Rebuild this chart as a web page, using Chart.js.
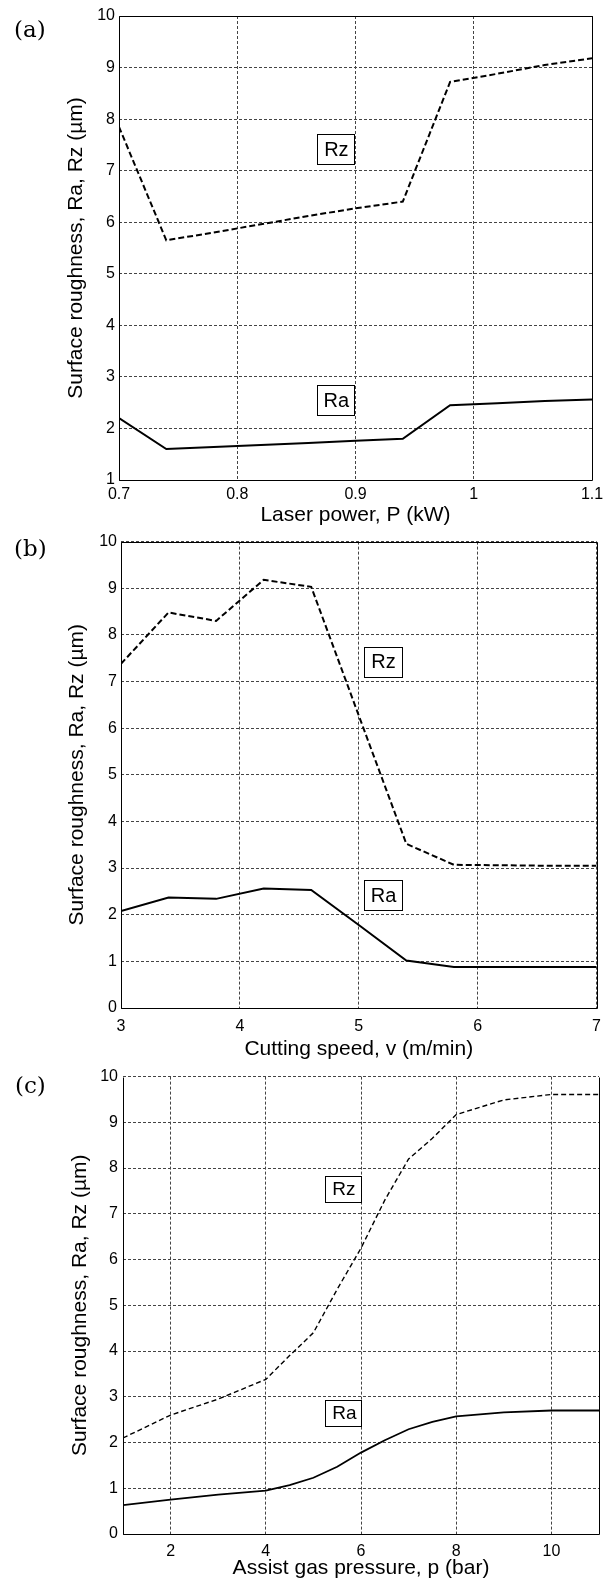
<!DOCTYPE html>
<html>
<head>
<meta charset="utf-8">
<script src="https://cdn.jsdelivr.net/npm/chart.js@4.4.1/dist/chart.umd.min.js"></script>
<style>
  html, body { margin: 0; padding: 0; background: #fff; }
  body { width: 610px; height: 1582px; position: relative; overflow: hidden; }
  .panel { position: absolute; left: 0; }
  .tag { position: absolute; font-family: "DejaVu Serif", "Liberation Serif", serif; font-size: 23px; color: #000; line-height: 1; }
</style>
</head>
<body>
<div class="panel" style="top:0px"><canvas id="ca" width="610" height="528"></canvas></div>
<div class="panel" style="top:528px"><canvas id="cb" width="610" height="534"></canvas></div>
<div class="panel" style="top:1062px"><canvas id="cc" width="610" height="520"></canvas></div>
<div class="tag" style="left:14px;top:18px">(a)</div>
<div class="tag" style="left:14px;top:537px">(b)</div>
<div class="tag" style="left:15px;top:1074px">(c)</div>
<script>
// ---------- data ----------
// (a) laser power
const aX  = [0.70, 0.74, 0.78, 0.82, 0.86, 0.90, 0.94, 0.98, 1.02, 1.06, 1.10];
const aRz = [7.85, 5.65, 5.80, 5.96, 6.12, 6.27, 6.40, 8.72, 8.88, 9.05, 9.18];
const aRa = [2.20, 1.60, 1.64, 1.68, 1.72, 1.76, 1.80, 2.45, 2.49, 2.53, 2.56];
const aXTicks = [0.7, 0.8, 0.9, 1.0, 1.1];
const aXLabels = ["0.7", "0.8", "0.9", "1", "1.1"];
const aYTicks = [1, 2, 3, 4, 5, 6, 7, 8, 9, 10];

// (b) cutting speed
const bX  = [3.0, 3.4, 3.8, 4.2, 4.6, 5.0, 5.4, 5.8, 6.2, 6.6, 7.0];
const bRz = [7.38, 8.48, 8.30, 9.18, 9.03, 6.27, 3.52, 3.07, 3.06, 3.05, 3.05];
const bRa = [2.08, 2.37, 2.34, 2.56, 2.53, 1.78, 1.02, 0.88, 0.88, 0.88, 0.88];
const bXTicks = [3, 4, 5, 6, 7];
const bXLabels = ["3", "4", "5", "6", "7"];
const bYTicks = [0, 1, 2, 3, 4, 5, 6, 7, 8, 9, 10];

// (c) assist gas pressure
const cX  = [1, 2, 3, 4, 4.5, 5, 5.5, 6, 6.5, 7, 7.5, 8, 9, 10, 11];
const cRz = [2.10, 2.60, 2.95, 3.38, 3.90, 4.40, 5.35, 6.25, 7.30, 8.20, 8.65, 9.17, 9.49, 9.61, 9.61];
const cRa = [0.63, 0.75, 0.86, 0.95, 1.07, 1.23, 1.47, 1.78, 2.05, 2.29, 2.45, 2.57, 2.66, 2.70, 2.70];
const cXTicks = [2, 4, 6, 8, 10];
const cXLabels = ["2", "4", "6", "8", "10"];
const cYTicks = [0, 1, 2, 3, 4, 5, 6, 7, 8, 9, 10];

const seriesNames = ["Rz", "Ra"];
const yTitle = "Surface roughness, Ra, Rz (\u00b5m)";
const xTitles = ["Laser power, P (kW)", "Cutting speed, v (m/min)", "Assist gas pressure, p (bar)"];

// ---------- helpers ----------
const FONT = "'Liberation Sans', Arial, Helvetica, sans-serif";

const framePlugin = {
  id: 'frame',
  afterDatasetsDraw(chart) {
    const {ctx, chartArea: a} = chart;
    const opt = chart.options.plugins.frameOpts || {};
    const l = Math.round(a.left) + 0.5, r = Math.round(a.right) + 0.5;
    const t = Math.round(a.top) + 0.5, b = Math.round(a.bottom) + 0.5;
    ctx.save();
    ctx.setLineDash([]);
    ctx.strokeStyle = '#000';
    ctx.lineWidth = 1;
    ctx.beginPath();
    if (opt.top !== false) { ctx.moveTo(l, t); ctx.lineTo(r, t); } else { ctx.moveTo(r, t); }
    ctx.lineTo(r, b); ctx.lineTo(l, b); ctx.lineTo(l, t);
    ctx.stroke();
    // boxed series labels
    const labels = chart.options.plugins.boxLabels || [];
    const xs = chart.scales.x, ys = chart.scales.y;
    labels.forEach(lb => {
      const cx = xs.getPixelForValue(lb.x), cy = ys.getPixelForValue(lb.y);
      const x0 = Math.round(cx - lb.w / 2) + 0.5, y0 = Math.round(cy - lb.h / 2) + 0.5;
      ctx.fillStyle = '#fff';
      ctx.fillRect(x0, y0, lb.w, lb.h);
      ctx.strokeStyle = '#000';
      ctx.lineWidth = 1;
      ctx.strokeRect(x0, y0, lb.w, lb.h);
      ctx.fillStyle = '#000';
      ctx.font = lb.size + 'px ' + FONT;
      ctx.textAlign = 'center';
      ctx.textBaseline = 'middle';
      ctx.fillText(lb.text, cx + 1, cy + 1);
    });
    ctx.restore();
  }
};

function makeChart(id, p) {
  const pts = (xs, ys) => xs.map((x, i) => ({x: x, y: ys[i]}));
  return new Chart(document.getElementById(id), {
    type: 'line',
    data: {
      datasets: [
        {label: seriesNames[0], data: pts(p.x, p.rz), borderColor: '#000', borderWidth: p.rzWidth,
         borderDash: p.rzDash, pointRadius: 0, fill: false, tension: 0},
        {label: seriesNames[1], data: pts(p.x, p.ra), borderColor: '#000', borderWidth: p.raWidth,
         pointRadius: 0, fill: false, tension: 0}
      ]
    },
    options: {
      responsive: false,
      animation: false,
      devicePixelRatio: 1,
      layout: {padding: {top: p.padTop, right: p.padRight, bottom: 0, left: 0}},
      plugins: {legend: {display: false}, tooltip: {enabled: false}, boxLabels: p.labels,
                frameOpts: {top: p.frameTop}},
      scales: {
        x: {
          type: 'linear', min: p.xMin, max: p.xMax,
          afterBuildTicks: s => { s.ticks = p.xTicks.map(v => ({value: v})); },
          afterFit: s => { s.height = p.xH; },
          ticks: {callback: (v, i) => p.xLabels[i], padding: p.xPad, color: '#000',
                  font: {family: FONT, size: 16}, maxRotation: 0, autoSkip: false},
          grid: {color: '#444', lineWidth: 1, drawTicks: false},
          border: {display: false, color: '#000', width: 1, dash: [3, 2]},
          title: {display: true, text: p.xTitle, color: '#000',
                  font: {family: FONT, size: 21, lineHeight: 1.2}, padding: {top: 0, bottom: p.xTitlePad}}
        },
        y: {
          type: 'linear', min: p.yMin, max: p.yMax,
          afterBuildTicks: s => { s.ticks = p.yTicks.map(v => ({value: v})); },
          afterFit: s => { s.width = p.yW; },
          ticks: {callback: v => String(v), padding: p.yPad, color: '#000',
                  font: {family: FONT, size: 16}, autoSkip: false},
          grid: {color: '#444', lineWidth: 1, drawTicks: false},
          border: {display: false, color: '#000', width: 1, dash: [3, 2]},
          title: {display: true, text: yTitle, color: '#000',
                  font: {family: FONT, size: 21, lineHeight: 1.2}, padding: {top: p.yTitlePad, bottom: 0}}
        }
      }
    },
    plugins: [framePlugin]
  });
}

makeChart('ca', {
  x: aX, rz: aRz, ra: aRa, xMin: 0.7, xMax: 1.1, yMin: 1, yMax: 10,
  xTicks: aXTicks, xLabels: aXLabels, yTicks: aYTicks, xTitle: xTitles[0],
  padTop: 16, padRight: 18, yW: 119, xH: 48, xPad: 5, yPad: 4, xTitlePad: 0, yTitlePad: 64,
  rzWidth: 2, rzDash: [6, 3], raWidth: 2, frameTop: true,
  labels: [{text: 'Rz', x: 0.883, y: 7.42, w: 37, h: 30, size: 20},
           {text: 'Ra', x: 0.883, y: 2.55, w: 37, h: 30, size: 20}]
});
makeChart('cb', {
  x: bX, rz: bRz, ra: bRa, xMin: 3, xMax: 7, yMin: 0, yMax: 10,
  xTicks: bXTicks, xLabels: bXLabels, yTicks: bYTicks, xTitle: xTitles[1],
  padTop: 8, padRight: 10, yW: 121, xH: 54, xPad: 9, yPad: 4, xTitlePad: 0, yTitlePad: 65,
  rzWidth: 2, rzDash: [6, 3], raWidth: 2, frameTop: true,
  labels: [{text: 'Rz', x: 5.20, y: 7.42, w: 38, h: 30, size: 20},
           {text: 'Ra', x: 5.20, y: 2.42, w: 38, h: 30, size: 20}]
});
makeChart('cc', {
  x: cX, rz: cRz, ra: cRa, xMin: 1, xMax: 11, yMin: 0, yMax: 10,
  xTicks: cXTicks, xLabels: cXLabels, yTicks: cYTicks, xTitle: xTitles[2],
  padTop: 14, padRight: 11, yW: 123, xH: 48, xPad: 8, yPad: 5, xTitlePad: 1, yTitlePad: 68,
  rzWidth: 1.4, rzDash: [5, 3], raWidth: 1.8, frameTop: false,
  labels: [{text: 'Rz', x: 5.62, y: 7.55, w: 36, h: 26, size: 19},
           {text: 'Ra', x: 5.63, y: 2.65, w: 36, h: 26, size: 19}]
});
</script>
</body>
</html>
